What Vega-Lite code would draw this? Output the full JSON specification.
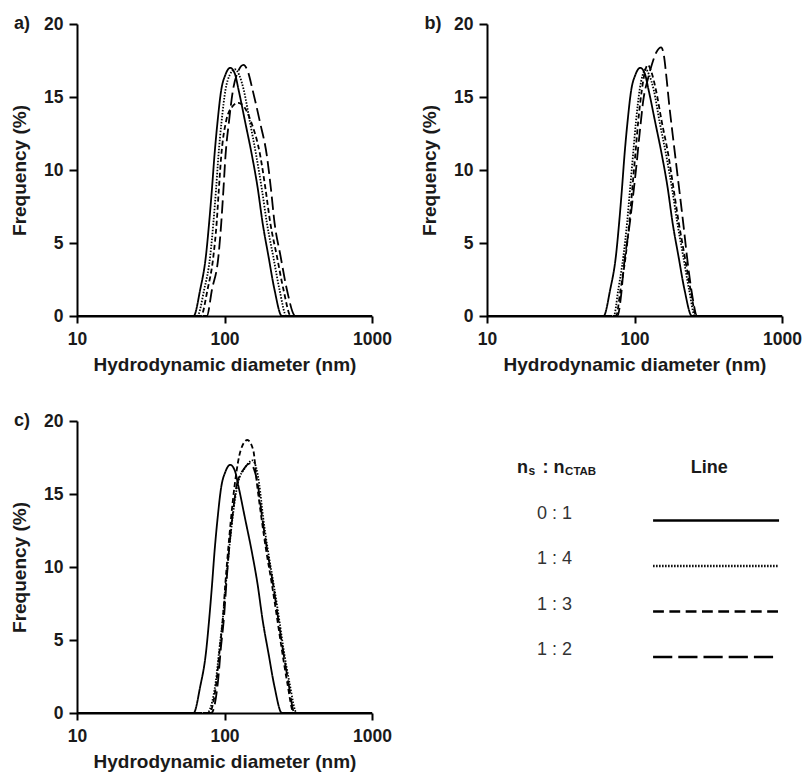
{
  "$schema": "https://vega.github.io/schema/vega-lite/v6.json",
  "padding": {"left": 10, "top": 15, "right": 0, "bottom": 0},
  "datasets": {
    "curves": [
      {"panel":"all","ratio":"0 : 1","d":10,"f":0},
      {"panel":"all","ratio":"0 : 1","d":61.7,"f":0},
      {"panel":"all","ratio":"0 : 1","d":68.4,"f":1.8},
      {"panel":"all","ratio":"0 : 1","d":74.8,"f":4.1},
      {"panel":"all","ratio":"0 : 1","d":78.7,"f":6.4},
      {"panel":"all","ratio":"0 : 1","d":82.2,"f":8.7},
      {"panel":"all","ratio":"0 : 1","d":85.5,"f":11},
      {"panel":"all","ratio":"0 : 1","d":89.7,"f":13.3},
      {"panel":"all","ratio":"0 : 1","d":95.1,"f":15.5},
      {"panel":"all","ratio":"0 : 1","d":101.2,"f":16.5},
      {"panel":"all","ratio":"0 : 1","d":109.4,"f":17},
      {"panel":"all","ratio":"0 : 1","d":117.5,"f":16.6},
      {"panel":"all","ratio":"0 : 1","d":124.5,"f":15.5},
      {"panel":"all","ratio":"0 : 1","d":138,"f":13.3},
      {"panel":"all","ratio":"0 : 1","d":153.5,"f":11},
      {"panel":"all","ratio":"0 : 1","d":168.3,"f":8.7},
      {"panel":"all","ratio":"0 : 1","d":181.1,"f":6.4},
      {"panel":"all","ratio":"0 : 1","d":198.6,"f":4.1},
      {"panel":"all","ratio":"0 : 1","d":218.3,"f":1.8},
      {"panel":"all","ratio":"0 : 1","d":244.9,"f":0},
      {"panel":"all","ratio":"0 : 1","d":1000,"f":0},

      {"panel":"a","ratio":"1 : 4","d":10,"f":0},
      {"panel":"a","ratio":"1 : 4","d":65.3,"f":0},
      {"panel":"a","ratio":"1 : 4","d":72.8,"f":1.8},
      {"panel":"a","ratio":"1 : 4","d":80.0,"f":4.1},
      {"panel":"a","ratio":"1 : 4","d":84.1,"f":6.4},
      {"panel":"a","ratio":"1 : 4","d":87.7,"f":8.7},
      {"panel":"a","ratio":"1 : 4","d":91.0,"f":11},
      {"panel":"a","ratio":"1 : 4","d":95.5,"f":13.3},
      {"panel":"a","ratio":"1 : 4","d":101.6,"f":15.5},
      {"panel":"a","ratio":"1 : 4","d":108.4,"f":16.5},
      {"panel":"a","ratio":"1 : 4","d":117.5,"f":16.9},
      {"panel":"a","ratio":"1 : 4","d":125.9,"f":16.5},
      {"panel":"a","ratio":"1 : 4","d":134.9,"f":15.5},
      {"panel":"a","ratio":"1 : 4","d":148.6,"f":13.3},
      {"panel":"a","ratio":"1 : 4","d":164.1,"f":11},
      {"panel":"a","ratio":"1 : 4","d":179.1,"f":8.7},
      {"panel":"a","ratio":"1 : 4","d":193.6,"f":6.4},
      {"panel":"a","ratio":"1 : 4","d":213.8,"f":4.1},
      {"panel":"a","ratio":"1 : 4","d":236.1,"f":1.8},
      {"panel":"a","ratio":"1 : 4","d":263.0,"f":0},
      {"panel":"a","ratio":"1 : 4","d":1000,"f":0},

      {"panel":"a","ratio":"1 : 3","d":10,"f":0},
      {"panel":"a","ratio":"1 : 3","d":69.2,"f":0},
      {"panel":"a","ratio":"1 : 3","d":76.7,"f":1.8},
      {"panel":"a","ratio":"1 : 3","d":84.1,"f":4.1},
      {"panel":"a","ratio":"1 : 3","d":88.5,"f":6.4},
      {"panel":"a","ratio":"1 : 3","d":91.6,"f":8.7},
      {"panel":"a","ratio":"1 : 3","d":95.1,"f":11},
      {"panel":"a","ratio":"1 : 3","d":102.3,"f":13.3},
      {"panel":"a","ratio":"1 : 3","d":112.2,"f":14.3},
      {"panel":"a","ratio":"1 : 3","d":123.9,"f":14.6},
      {"panel":"a","ratio":"1 : 3","d":136.5,"f":14.3},
      {"panel":"a","ratio":"1 : 3","d":151.4,"f":13.3},
      {"panel":"a","ratio":"1 : 3","d":174.6,"f":11},
      {"panel":"a","ratio":"1 : 3","d":189.7,"f":8.7},
      {"panel":"a","ratio":"1 : 3","d":204.2,"f":6.4},
      {"panel":"a","ratio":"1 : 3","d":226.5,"f":4.1},
      {"panel":"a","ratio":"1 : 3","d":251.2,"f":1.8},
      {"panel":"a","ratio":"1 : 3","d":281.8,"f":0},
      {"panel":"a","ratio":"1 : 3","d":1000,"f":0},

      {"panel":"a","ratio":"1 : 2","d":10,"f":0},
      {"panel":"a","ratio":"1 : 2","d":75.9,"f":0},
      {"panel":"a","ratio":"1 : 2","d":82.2,"f":1.8},
      {"panel":"a","ratio":"1 : 2","d":91.0,"f":4.1},
      {"panel":"a","ratio":"1 : 2","d":95.1,"f":6.4},
      {"panel":"a","ratio":"1 : 2","d":98.4,"f":8.7},
      {"panel":"a","ratio":"1 : 2","d":101.6,"f":11},
      {"panel":"a","ratio":"1 : 2","d":107.2,"f":13.3},
      {"panel":"a","ratio":"1 : 2","d":114.3,"f":15.5},
      {"panel":"a","ratio":"1 : 2","d":123.0,"f":16.7},
      {"panel":"a","ratio":"1 : 2","d":134.6,"f":17.2},
      {"panel":"a","ratio":"1 : 2","d":144.5,"f":16.7},
      {"panel":"a","ratio":"1 : 2","d":154.9,"f":15.5},
      {"panel":"a","ratio":"1 : 2","d":173.8,"f":13.3},
      {"panel":"a","ratio":"1 : 2","d":193.6,"f":11},
      {"panel":"a","ratio":"1 : 2","d":206.5,"f":8.7},
      {"panel":"a","ratio":"1 : 2","d":218.3,"f":6.4},
      {"panel":"a","ratio":"1 : 2","d":239.9,"f":4.1},
      {"panel":"a","ratio":"1 : 2","d":264.9,"f":1.8},
      {"panel":"a","ratio":"1 : 2","d":302.0,"f":0},
      {"panel":"a","ratio":"1 : 2","d":1000,"f":0},

      {"panel":"b","ratio":"1 : 4","d":10,"f":0},
      {"panel":"b","ratio":"1 : 4","d":72.4,"f":0},
      {"panel":"b","ratio":"1 : 4","d":77.6,"f":1.8},
      {"panel":"b","ratio":"1 : 4","d":84.1,"f":4.1},
      {"panel":"b","ratio":"1 : 4","d":89.1,"f":6.4},
      {"panel":"b","ratio":"1 : 4","d":93.3,"f":8.7},
      {"panel":"b","ratio":"1 : 4","d":97.7,"f":11},
      {"panel":"b","ratio":"1 : 4","d":102.3,"f":13.3},
      {"panel":"b","ratio":"1 : 4","d":108.4,"f":15.5},
      {"panel":"b","ratio":"1 : 4","d":113.5,"f":16.5},
      {"panel":"b","ratio":"1 : 4","d":118.9,"f":16.9},
      {"panel":"b","ratio":"1 : 4","d":125.9,"f":16.5},
      {"panel":"b","ratio":"1 : 4","d":134.9,"f":15.5},
      {"panel":"b","ratio":"1 : 4","d":147.9,"f":13.3},
      {"panel":"b","ratio":"1 : 4","d":164.1,"f":11},
      {"panel":"b","ratio":"1 : 4","d":179.9,"f":8.7},
      {"panel":"b","ratio":"1 : 4","d":195.0,"f":6.4},
      {"panel":"b","ratio":"1 : 4","d":213.8,"f":4.1},
      {"panel":"b","ratio":"1 : 4","d":234.4,"f":1.8},
      {"panel":"b","ratio":"1 : 4","d":257.0,"f":0},
      {"panel":"b","ratio":"1 : 4","d":1000,"f":0},

      {"panel":"b","ratio":"1 : 3","d":10,"f":0},
      {"panel":"b","ratio":"1 : 3","d":75.0,"f":0},
      {"panel":"b","ratio":"1 : 3","d":80.4,"f":1.8},
      {"panel":"b","ratio":"1 : 3","d":87.1,"f":4.1},
      {"panel":"b","ratio":"1 : 3","d":92.3,"f":6.4},
      {"panel":"b","ratio":"1 : 3","d":96.6,"f":8.7},
      {"panel":"b","ratio":"1 : 3","d":101.2,"f":11},
      {"panel":"b","ratio":"1 : 3","d":105.9,"f":13.3},
      {"panel":"b","ratio":"1 : 3","d":112.2,"f":15.5},
      {"panel":"b","ratio":"1 : 3","d":117.5,"f":16.7},
      {"panel":"b","ratio":"1 : 3","d":123.0,"f":17.2},
      {"panel":"b","ratio":"1 : 3","d":130.3,"f":16.7},
      {"panel":"b","ratio":"1 : 3","d":139.6,"f":15.5},
      {"panel":"b","ratio":"1 : 3","d":153.1,"f":13.3},
      {"panel":"b","ratio":"1 : 3","d":169.8,"f":11},
      {"panel":"b","ratio":"1 : 3","d":184.1,"f":8.7},
      {"panel":"b","ratio":"1 : 3","d":199.5,"f":6.4},
      {"panel":"b","ratio":"1 : 3","d":218.8,"f":4.1},
      {"panel":"b","ratio":"1 : 3","d":239.9,"f":1.8},
      {"panel":"b","ratio":"1 : 3","d":263.0,"f":0},
      {"panel":"b","ratio":"1 : 3","d":1000,"f":0},

      {"panel":"b","ratio":"1 : 2","d":10,"f":0},
      {"panel":"b","ratio":"1 : 2","d":76.6,"f":0},
      {"panel":"b","ratio":"1 : 2","d":81.3,"f":1.5},
      {"panel":"b","ratio":"1 : 2","d":84.1,"f":3.1},
      {"panel":"b","ratio":"1 : 2","d":93.3,"f":6.5},
      {"panel":"b","ratio":"1 : 2","d":102.3,"f":10},
      {"panel":"b","ratio":"1 : 2","d":109.6,"f":13},
      {"panel":"b","ratio":"1 : 2","d":114.8,"f":14.8},
      {"panel":"b","ratio":"1 : 2","d":123.0,"f":16.2},
      {"panel":"b","ratio":"1 : 2","d":131.8,"f":17.3},
      {"panel":"b","ratio":"1 : 2","d":141.3,"f":18.1},
      {"panel":"b","ratio":"1 : 2","d":151.4,"f":18.4},
      {"panel":"b","ratio":"1 : 2","d":158.5,"f":17.8},
      {"panel":"b","ratio":"1 : 2","d":163.7,"f":16.6},
      {"panel":"b","ratio":"1 : 2","d":171.8,"f":14.5},
      {"panel":"b","ratio":"1 : 2","d":181.1,"f":12.5},
      {"panel":"b","ratio":"1 : 2","d":192.8,"f":10.2},
      {"panel":"b","ratio":"1 : 2","d":213.8,"f":6.4},
      {"panel":"b","ratio":"1 : 2","d":231.7,"f":3.3},
      {"panel":"b","ratio":"1 : 2","d":245.5,"f":1.5},
      {"panel":"b","ratio":"1 : 2","d":266.1,"f":0},
      {"panel":"b","ratio":"1 : 2","d":1000,"f":0},

      {"panel":"c","ratio":"1 : 4","d":10,"f":0},
      {"panel":"c","ratio":"1 : 4","d":75.9,"f":0},
      {"panel":"c","ratio":"1 : 4","d":87.1,"f":2.1},
      {"panel":"c","ratio":"1 : 4","d":92.3,"f":4.4},
      {"panel":"c","ratio":"1 : 4","d":97.7,"f":6.6},
      {"panel":"c","ratio":"1 : 4","d":102.3,"f":8.9},
      {"panel":"c","ratio":"1 : 4","d":107.2,"f":11.1},
      {"panel":"c","ratio":"1 : 4","d":113.5,"f":13.4},
      {"panel":"c","ratio":"1 : 4","d":123.0,"f":15.7},
      {"panel":"c","ratio":"1 : 4","d":138.0,"f":16.8},
      {"panel":"c","ratio":"1 : 4","d":154.9,"f":17.3},
      {"panel":"c","ratio":"1 : 4","d":164.1,"f":16.8},
      {"panel":"c","ratio":"1 : 4","d":171.8,"f":15.7},
      {"panel":"c","ratio":"1 : 4","d":182.8,"f":13.4},
      {"panel":"c","ratio":"1 : 4","d":197.2,"f":11.1},
      {"panel":"c","ratio":"1 : 4","d":214.8,"f":8.9},
      {"panel":"c","ratio":"1 : 4","d":233.3,"f":6.6},
      {"panel":"c","ratio":"1 : 4","d":251.2,"f":4.4},
      {"panel":"c","ratio":"1 : 4","d":275.4,"f":2.1},
      {"panel":"c","ratio":"1 : 4","d":309.0,"f":0},
      {"panel":"c","ratio":"1 : 4","d":1000,"f":0},

      {"panel":"c","ratio":"1 : 3","d":10,"f":0},
      {"panel":"c","ratio":"1 : 3","d":78.5,"f":0},
      {"panel":"c","ratio":"1 : 3","d":88.1,"f":2.1},
      {"panel":"c","ratio":"1 : 3","d":92.9,"f":4.4},
      {"panel":"c","ratio":"1 : 3","d":97.7,"f":6.6},
      {"panel":"c","ratio":"1 : 3","d":101.4,"f":8.9},
      {"panel":"c","ratio":"1 : 3","d":105.7,"f":11.1},
      {"panel":"c","ratio":"1 : 3","d":110.9,"f":13.4},
      {"panel":"c","ratio":"1 : 3","d":117.5,"f":15.7},
      {"panel":"c","ratio":"1 : 3","d":128.8,"f":18.0},
      {"panel":"c","ratio":"1 : 3","d":142.9,"f":18.7},
      {"panel":"c","ratio":"1 : 3","d":156.7,"f":18.0},
      {"panel":"c","ratio":"1 : 3","d":166.0,"f":15.7},
      {"panel":"c","ratio":"1 : 3","d":177.8,"f":13.4},
      {"panel":"c","ratio":"1 : 3","d":191.9,"f":11.1},
      {"panel":"c","ratio":"1 : 3","d":208.9,"f":8.9},
      {"panel":"c","ratio":"1 : 3","d":226.5,"f":6.6},
      {"panel":"c","ratio":"1 : 3","d":244.3,"f":4.4},
      {"panel":"c","ratio":"1 : 3","d":266.1,"f":2.1},
      {"panel":"c","ratio":"1 : 3","d":295.1,"f":0},
      {"panel":"c","ratio":"1 : 3","d":1000,"f":0},

      {"panel":"c","ratio":"1 : 2","d":10,"f":0},
      {"panel":"c","ratio":"1 : 2","d":81.3,"f":0},
      {"panel":"c","ratio":"1 : 2","d":90.2,"f":2.1},
      {"panel":"c","ratio":"1 : 2","d":94.4,"f":4.4},
      {"panel":"c","ratio":"1 : 2","d":99.3,"f":6.6},
      {"panel":"c","ratio":"1 : 2","d":103.0,"f":8.9},
      {"panel":"c","ratio":"1 : 2","d":107.2,"f":11.1},
      {"panel":"c","ratio":"1 : 2","d":113.0,"f":13.4},
      {"panel":"c","ratio":"1 : 2","d":121.6,"f":15.7},
      {"panel":"c","ratio":"1 : 2","d":134.9,"f":16.7},
      {"panel":"c","ratio":"1 : 2","d":149.6,"f":17.1},
      {"panel":"c","ratio":"1 : 2","d":158.5,"f":16.7},
      {"panel":"c","ratio":"1 : 2","d":167.9,"f":15.7},
      {"panel":"c","ratio":"1 : 2","d":179.9,"f":13.4},
      {"panel":"c","ratio":"1 : 2","d":195.0,"f":11.1},
      {"panel":"c","ratio":"1 : 2","d":212.8,"f":8.9},
      {"panel":"c","ratio":"1 : 2","d":230.1,"f":6.6},
      {"panel":"c","ratio":"1 : 2","d":248.3,"f":4.4},
      {"panel":"c","ratio":"1 : 2","d":271.0,"f":2.1},
      {"panel":"c","ratio":"1 : 2","d":298.5,"f":0},
      {"panel":"c","ratio":"1 : 2","d":1000,"f":0}
    ],
    "legendRows": [
      {"ratio": "0 : 1"},
      {"ratio": "1 : 4"},
      {"ratio": "1 : 3"},
      {"ratio": "1 : 2"}
    ]
  },
  "columns": 2,
  "spacing": {"row": 105, "column": 115},
  "bounds": "flush",
  "concat": [
    {
      "width": 295, "height": 292,
      "layer": [
        {
          "data": {"name": "curves"},
          "transform": [{"filter": {"field": "panel", "oneOf": ["a", "all"]}}],
          "mark": {"type": "line", "interpolate": "monotone", "strokeWidth": 1.8, "color": "black"},
          "encoding": {
            "x": {"field": "d", "type": "quantitative", "scale": {"type": "log", "domain": [10, 1000]}, "axis": {"values": [10, 100, 1000], "format": "d", "title": "Hydrodynamic diameter (nm)"}},
            "y": {"field": "f", "type": "quantitative", "scale": {"domain": [0, 20], "nice": false}, "axis": {"values": [0, 5, 10, 15, 20], "title": "Frequency (%)"}},
            "strokeDash": {"field": "ratio", "type": "nominal", "scale": {"domain": ["0 : 1", "1 : 4", "1 : 3", "1 : 2"], "range": [[1, 0], [1.5, 1.5], [5, 3], [13, 5]]}, "legend": null}
          }
        },
        {
          "data": {"values": [{"label": "a)"}]},
          "mark": {"type": "text", "dx": -55, "fontSize": 18, "fontWeight": "bold", "color": "#1a1a1a", "align": "center", "baseline": "middle"},
          "encoding": {"x": {"datum": 10}, "y": {"datum": 20}, "text": {"field": "label"}}
        }
      ]
    },
    {
      "width": 295, "height": 292,
      "layer": [
        {
          "data": {"name": "curves"},
          "transform": [{"filter": {"field": "panel", "oneOf": ["b", "all"]}}],
          "mark": {"type": "line", "interpolate": "monotone", "strokeWidth": 1.8, "color": "black"},
          "encoding": {
            "x": {"field": "d", "type": "quantitative", "scale": {"type": "log", "domain": [10, 1000]}, "axis": {"values": [10, 100, 1000], "format": "d", "title": "Hydrodynamic diameter (nm)"}},
            "y": {"field": "f", "type": "quantitative", "scale": {"domain": [0, 20], "nice": false}, "axis": {"values": [0, 5, 10, 15, 20], "title": "Frequency (%)"}},
            "strokeDash": {"field": "ratio", "type": "nominal", "scale": {"domain": ["0 : 1", "1 : 4", "1 : 3", "1 : 2"], "range": [[1, 0], [1.5, 1.5], [5, 3], [13, 5]]}, "legend": null}
          }
        },
        {
          "data": {"values": [{"label": "b)"}]},
          "mark": {"type": "text", "dx": -54, "fontSize": 18, "fontWeight": "bold", "color": "#1a1a1a", "align": "center", "baseline": "middle"},
          "encoding": {"x": {"datum": 10}, "y": {"datum": 20}, "text": {"field": "label"}}
        }
      ]
    },
    {
      "width": 295, "height": 292,
      "layer": [
        {
          "data": {"name": "curves"},
          "transform": [{"filter": {"field": "panel", "oneOf": ["c", "all"]}}],
          "mark": {"type": "line", "interpolate": "monotone", "strokeWidth": 1.8, "color": "black"},
          "encoding": {
            "x": {"field": "d", "type": "quantitative", "scale": {"type": "log", "domain": [10, 1000]}, "axis": {"values": [10, 100, 1000], "format": "d", "title": "Hydrodynamic diameter (nm)"}},
            "y": {"field": "f", "type": "quantitative", "scale": {"domain": [0, 20], "nice": false}, "axis": {"values": [0, 5, 10, 15, 20], "title": "Frequency (%)"}},
            "strokeDash": {"field": "ratio", "type": "nominal", "scale": {"domain": ["0 : 1", "1 : 4", "1 : 3", "1 : 2"], "range": [[1, 0], [1.5, 1.5], [5, 3], [13, 5]]}, "legend": null}
          }
        },
        {
          "data": {"values": [{"label": "c)"}]},
          "mark": {"type": "text", "dx": -55, "fontSize": 18, "fontWeight": "bold", "color": "#1a1a1a", "align": "center", "baseline": "middle"},
          "encoding": {"x": {"datum": 10}, "y": {"datum": 20}, "text": {"field": "label"}}
        }
      ]
    },
    {
      "width": 295, "height": 292,
      "encoding": {
        "y": {"field": "ratio", "type": "nominal", "scale": {"type": "point", "domain": ["head", "0 : 1", "1 : 4", "1 : 3", "1 : 2"], "range": [47, 229], "padding": 0}, "axis": null}
      },
      "layer": [
        {
          "data": {"values": [{"ratio": "head", "t": "n"}]},
          "mark": {"type": "text", "fontSize": 18, "fontWeight": "bold", "color": "#1a1a1a", "align": "right", "baseline": "alphabetic", "dy": 5},
          "encoding": {"x": {"datum": 13.9, "type": "quantitative", "scale": {"domain": [0, 100], "nice": false, "zero": false}, "axis": null}, "text": {"field": "t"}}
        },
        {
          "data": {"values": [{"ratio": "head", "t": "s"}]},
          "mark": {"type": "text", "fontSize": 12, "fontWeight": "bold", "color": "#1a1a1a", "align": "left", "baseline": "alphabetic", "dy": 7, "dx": 0.5},
          "encoding": {"x": {"datum": 13.9, "type": "quantitative"}, "text": {"field": "t"}}
        },
        {
          "data": {"values": [{"ratio": "head", "t": ": n"}]},
          "mark": {"type": "text", "fontSize": 18, "fontWeight": "bold", "color": "#1a1a1a", "align": "right", "baseline": "alphabetic", "dy": 5},
          "encoding": {"x": {"datum": 26.3, "type": "quantitative"}, "text": {"field": "t"}}
        },
        {
          "data": {"values": [{"ratio": "head", "t": "CTAB"}]},
          "mark": {"type": "text", "fontSize": 11.5, "fontWeight": "bold", "color": "#1a1a1a", "align": "left", "baseline": "alphabetic", "dy": 7, "dx": 0.5},
          "encoding": {"x": {"datum": 26.3, "type": "quantitative"}, "text": {"field": "t"}}
        },
        {
          "data": {"values": [{"ratio": "head", "t": "Line"}]},
          "mark": {"type": "text", "fontSize": 18, "fontWeight": "bold", "color": "#1a1a1a", "align": "center", "baseline": "alphabetic", "dy": 5},
          "encoding": {"x": {"datum": 75.3, "type": "quantitative"}, "text": {"field": "t"}}
        },
        {
          "data": {"name": "legendRows"},
          "mark": {"type": "text", "fontSize": 18, "color": "#333333", "align": "center", "baseline": "middle"},
          "encoding": {"x": {"datum": 22.9, "type": "quantitative"}, "text": {"field": "ratio"}}
        },
        {
          "data": {"name": "legendRows"},
          "mark": {"type": "rule", "strokeWidth": 2.5, "color": "black", "yOffset": 7},
          "encoding": {
            "x": {"datum": 56.3, "type": "quantitative"},
            "x2": {"datum": 99.0},
            "strokeDash": {"field": "ratio", "type": "nominal", "scale": {"domain": ["0 : 1", "1 : 4", "1 : 3", "1 : 2"], "range": [[1, 0], [1.5, 1.5], [10.8, 5.5], [19.2, 6]]}, "legend": null}
          }
        }
      ]
    }
  ],
  "resolve": {"scale": {"x": "independent", "y": "independent", "strokeDash": "independent"}},
  "config": {
    "font": "Liberation Sans",
    "view": {"stroke": null},
    "axis": {
      "grid": false,
      "domainColor": "black",
      "domainWidth": 2,
      "tickColor": "black",
      "tickWidth": 2,
      "tickSize": 7,
      "labelFontSize": 17.5,
      "labelFontWeight": "bold",
      "labelColor": "#1a1a1a",
      "labelFlush": false,
      "titleFontSize": 19,
      "titleFontWeight": "bold",
      "titleColor": "#1a1a1a"
    },
    "axisX": {"labelPadding": 7, "titlePadding": 8},
    "axisY": {"labelPadding": 6, "titlePadding": 14, "tickSize": 8}
  }
}
